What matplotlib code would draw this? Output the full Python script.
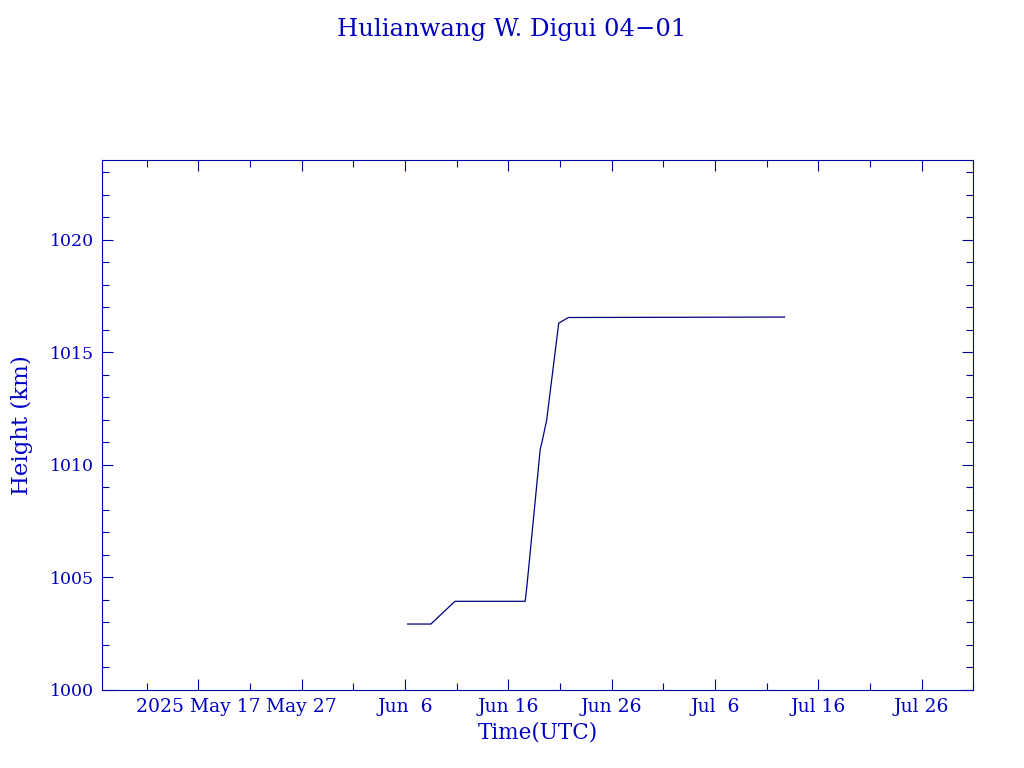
import matplotlib
matplotlib.use("Agg")
import matplotlib.pyplot as plt
import numpy as np
import pandas as pd

# data
times = ["2025-06-06 06:00", "2025-06-08 12:00", "2025-06-10 20:00",
         "2025-06-17 15:00", "2025-06-17 19:00", "2025-06-19 02:00",
         "2025-06-19 06:30", "2025-06-19 17:00", "2025-06-20 21:00",
         "2025-06-21 19:30", "2025-07-12 17:30"]
height = [1002.93, 1002.93, 1003.94, 1003.94, 1004.6, 1010.7,
          1011.05, 1012.0, 1016.3, 1016.55, 1016.57]

major_ticks = ["2025-05-17", "2025-05-27", "2025-06-06", "2025-06-16",
               "2025-06-26", "2025-07-06", "2025-07-16", "2025-07-26"]
major_labels = ["2025 May 17", "May 27", "Jun  6", "Jun 16",
                "Jun 26", "Jul  6", "Jul 16", "Jul 26"]

x = pd.to_datetime(times)
text_col = "#0000c0"
axis_col = "#0000a0"
line_col = "#000080"

plt.rcParams["font.family"] = "DejaVu Serif"

fig = plt.figure(figsize=(10.24, 7.68), dpi=100)
ax = fig.add_axes([0.1, 0.1016, 0.8505, 0.6901])

ax.plot(x, height, color=line_col, lw=0.9)

ax.set_xlim(pd.Timestamp("2025-05-07 17:00"), pd.Timestamp("2025-07-30 17:00"))
ax.set_ylim(1000, 1023.55)

ax.set_xticks(pd.to_datetime(major_ticks))
ax.set_xticklabels(major_labels)
minor = pd.date_range("2025-05-12", "2025-07-31", freq="5D")
ax.set_xticks(minor, minor=True)
ax.set_yticks(np.arange(1000, 1021, 5))
ax.set_yticks(np.arange(1000, 1024, 1), minor=True)

for s in ax.spines.values():
    s.set_color(axis_col)
    s.set_linewidth(0.8)
ax.tick_params(which="both", direction="in", top=True, right=True,
               color=axis_col, labelcolor=text_col, width=0.8)
ax.tick_params(which="major", length=8, pad=6)
ax.tick_params(which="minor", length=4.8)
ax.tick_params(axis="y", labelsize=12.5)
ax.tick_params(axis="x", labelsize=13.5)

ax.set_xlabel("Time(UTC)", color=text_col, fontsize=15.5, labelpad=4)
ax.set_ylabel("Height (km)", color=text_col, fontsize=16.5, labelpad=12)
fig.text(0.5, 0.961, "Hulianwang W. Digui 04\u221201", color=text_col,
         fontsize=17.5, ha="center", va="center")

fig.savefig("out.png", dpi=100)
